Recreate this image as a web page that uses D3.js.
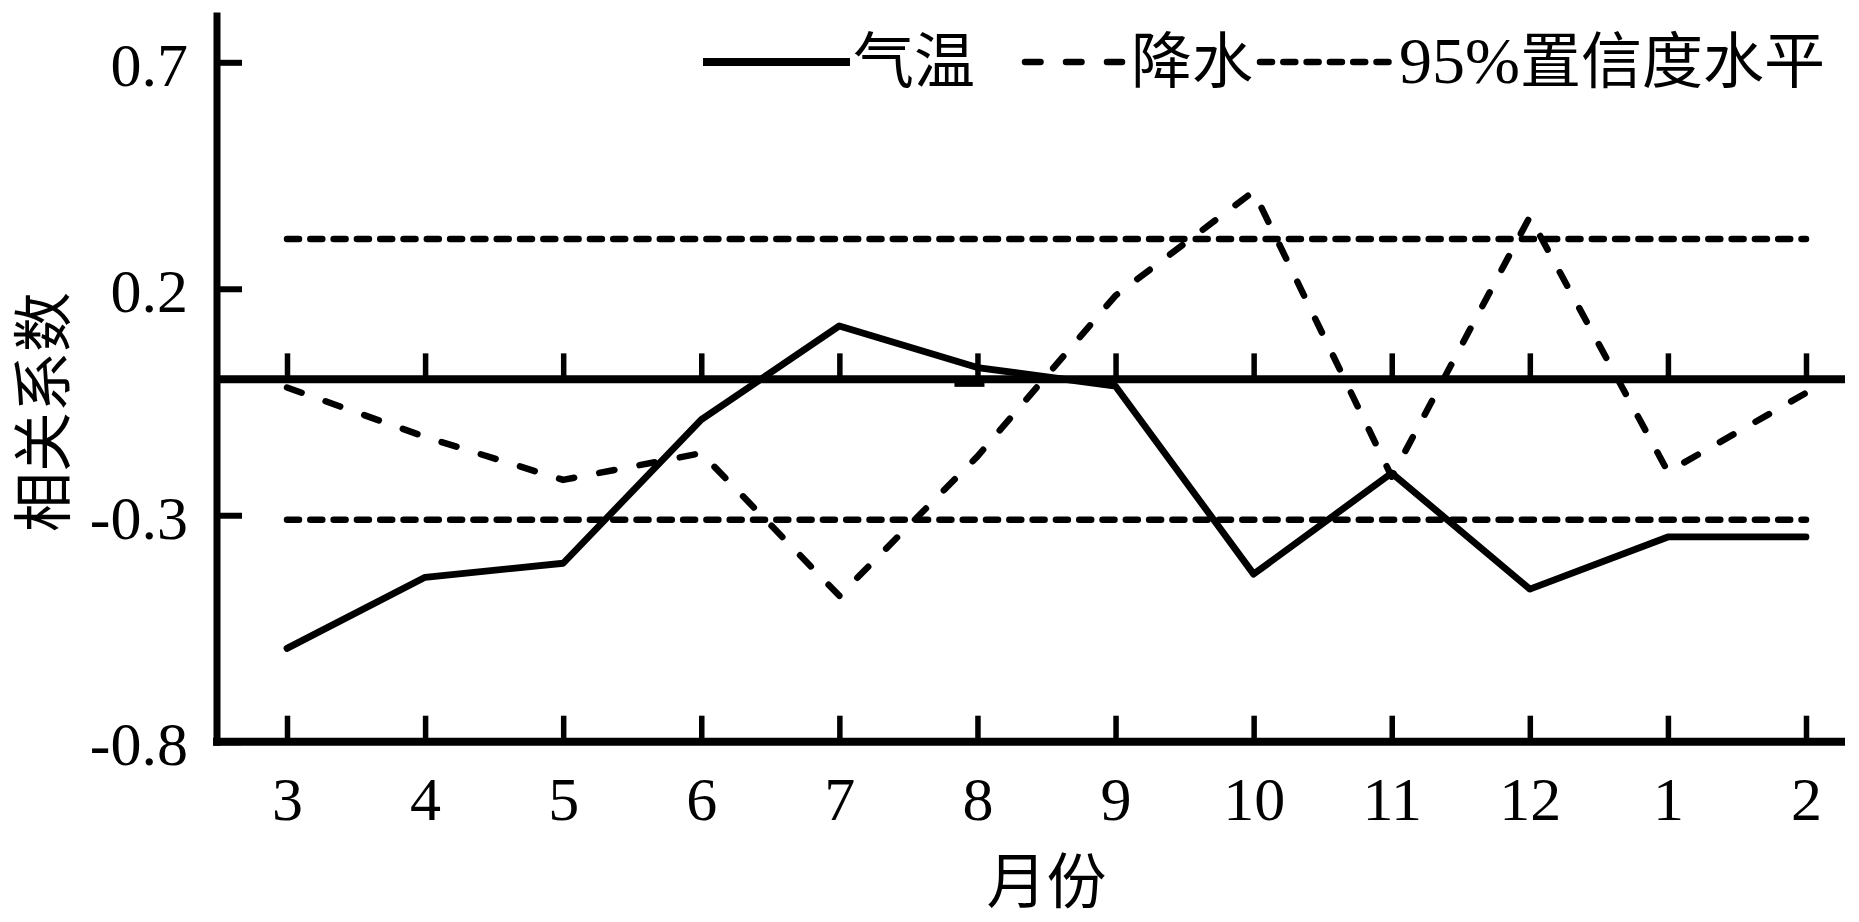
<!DOCTYPE html>
<html>
<head>
<meta charset="utf-8">
<script src="https://cdn.jsdelivr.net/npm/d3@7"></script>
<style>
  html, body { margin: 0; padding: 0; background: #fff; }
  svg { display: block; }
</style>
</head>
<body>
<svg id="chart" width="1859" height="922"></svg>
<script>
// ---- data ----
const months = ["3", "4", "5", "6", "7", "8", "9", "10", "11", "12", "1", "2"];
const temperature = [-0.594, -0.437, -0.406, -0.089, 0.118, 0.026, -0.015, -0.43, -0.207, -0.463, -0.348, -0.348];
const precipitation = [-0.018, -0.127, -0.222, -0.163, -0.478, -0.17, 0.185, 0.415, -0.215, 0.359, -0.204, -0.03];
const confUpper = 0.31;
const confLower = -0.31;
const yTicks = [-0.8, -0.3, 0.2, 0.7];
const yMaxAxis = 0.81;
const seriesNames = ["气温", "降水", "95%置信度水平"];
const xTitle = "月份";
const yTitle = "相关系数";

// ---- layout ----
const svg = d3.select("#chart");
const axisX = 217;
const axisRight = 1845;
const x = d3.scalePoint().domain(months).range([287, 1806]);
const y = d3.scaleLinear().domain([-0.8, 0.7]).range([741.7, 62.3]);
const latin = "'Liberation Serif', 'Times New Roman', serif";
const mixed = "'Liberation Serif', 'Noto Sans CJK SC', serif";

// confidence lines
const confDash = "12 11.3";
[confUpper, confLower].forEach(v => {
  svg.append("line")
    .attr("x1", x(months[0])).attr("x2", x(months[months.length - 1]))
    .attr("y1", y(v)).attr("y2", y(v))
    .attr("stroke", "#000").attr("stroke-width", 6.5)
    .attr("stroke-linecap", "round").attr("stroke-dasharray", confDash);
});

// zero line axis (ticks upward)
const gZero = svg.append("g").attr("transform", `translate(0,${y(0)})`)
  .call(d3.axisTop(x).tickSizeInner(26).tickSizeOuter(0).tickFormat(""));
gZero.select(".domain").remove();
gZero.selectAll(".tick line").attr("stroke", "#000").attr("stroke-width", 5.5);
svg.append("line").attr("x1", axisX).attr("x2", axisRight)
  .attr("y1", y(0)).attr("y2", y(0)).attr("stroke", "#000").attr("stroke-width", 8);
// small mark below the zero line at month 8
svg.append("rect").attr("x", x("8") - 23).attr("y", y(0) + 3).attr("width", 30).attr("height", 4.5).attr("fill", "#000");

// bottom axis
const gX = svg.append("g").attr("transform", `translate(0,${y(-0.8)})`)
  .call(d3.axisBottom(x).tickSizeInner(-26).tickSizeOuter(0).tickPadding(34));
gX.select(".domain").remove();
gX.selectAll(".tick line").attr("stroke", "#000").attr("stroke-width", 5.5);
gX.selectAll(".tick text").attr("font-family", latin).attr("font-size", 62).attr("fill", "#000");

// left axis
const gY = svg.append("g").attr("transform", `translate(${axisX},0)`)
  .call(d3.axisLeft(y).tickValues(yTicks).tickSizeInner(-25).tickSizeOuter(0)
    .tickPadding(29).tickFormat(d => d.toFixed(1)));
gY.select(".domain").remove();
gY.selectAll(".tick line").attr("stroke", "#000").attr("stroke-width", 6);
gY.selectAll(".tick text").attr("font-family", latin).attr("font-size", 62)
  .attr("fill", "#000").attr("dy", "0.37em");

svg.append("line").attr("x1", axisX - 4).attr("x2", axisRight)
  .attr("y1", y(-0.8)).attr("y2", y(-0.8)).attr("stroke", "#000").attr("stroke-width", 8);
svg.append("line").attr("x1", axisX).attr("x2", axisX)
  .attr("y1", y(yMaxAxis)).attr("y2", y(-0.8) + 4).attr("stroke", "#000").attr("stroke-width", 7);

// data lines
const line = d3.line().x((d, i) => x(months[i])).y(d => y(d));
svg.append("path").datum(precipitation).attr("d", line)
  .attr("fill", "none").attr("stroke", "#000").attr("stroke-width", 6.5)
  .attr("stroke-linecap", "round").attr("stroke-linejoin", "round")
  .attr("stroke-dasharray", "15.5 25.5");
svg.append("path").datum(temperature).attr("d", line)
  .attr("fill", "none").attr("stroke", "#000").attr("stroke-width", 6.8)
  .attr("stroke-linecap", "round").attr("stroke-linejoin", "round");

// legend
const legY = 62;
const legTextY = 83;
const legend = [
  { x1: 703, x2: 850, tx: 853, dash: null, name: seriesNames[0] },
  { x1: 1025, x2: 1122, tx: 1131, dash: "15.5 25.5", name: seriesNames[1] },
  { x1: 1260, x2: 1393, tx: 1399, dash: confDash, name: seriesNames[2] }
];
legend.forEach(l => {
  svg.append("line").attr("x1", l.x1).attr("x2", l.x2).attr("y1", legY).attr("y2", legY)
    .attr("stroke", "#000").attr("stroke-width", l.dash ? 6.5 : 8)
    .attr("stroke-linecap", l.dash ? "round" : "butt")
    .attr("stroke-dasharray", l.dash);
  const t = svg.append("text").attr("x", l.tx).attr("y", legTextY)
    .attr("font-family", mixed).attr("font-size", 61).attr("fill", "#000");
  const m = l.name.match(/^([0-9%]+)(.*)$/);
  if (m) {
    t.append("tspan").attr("font-size", 66).text(m[1]);
    t.append("tspan").text(m[2]);
  } else {
    t.text(l.name);
  }
});

// axis titles
svg.append("text").attr("x", (x(months[0]) + x(months[months.length - 1])) / 2).attr("y", 903)
  .attr("text-anchor", "middle").attr("font-family", mixed).attr("font-size", 60)
  .attr("fill", "#000").text(xTitle);
svg.append("text").attr("transform", "translate(65,412) rotate(-90)")
  .attr("text-anchor", "middle").attr("font-family", mixed).attr("font-size", 60)
  .attr("fill", "#000").text(yTitle);
</script>
</body>
</html>
